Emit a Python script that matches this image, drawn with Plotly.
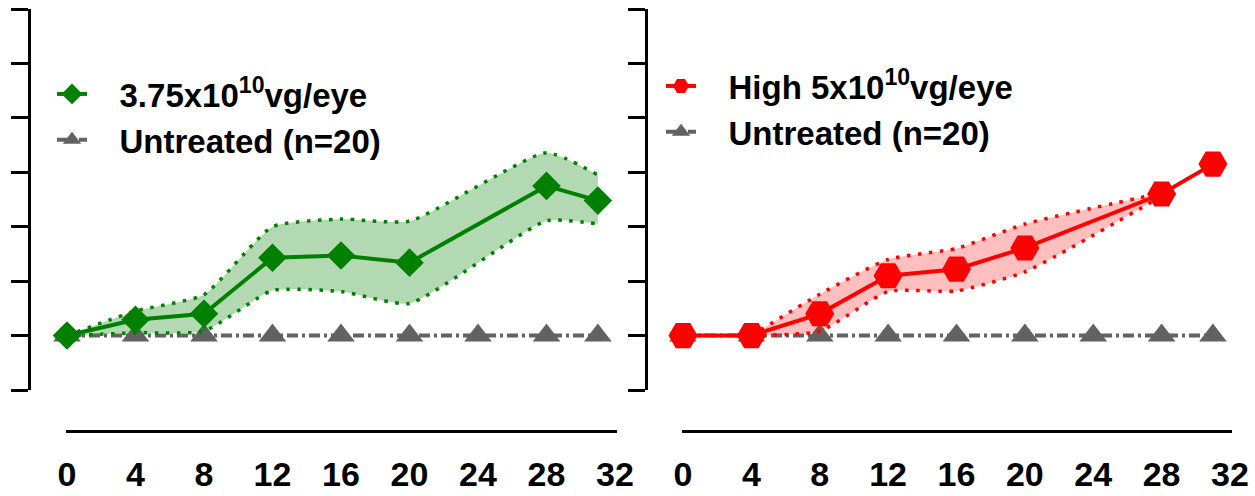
import plotly.graph_objects as go

W, H = 1255, 496

# ---------------- data ----------------
tick_vals = [0, 4, 8, 12, 16, 20, 24, 28, 32]
tick_text = ["0", "4", "8", "12", "16", "20", "24", "28", "32"]
y_ticks = [0, 1, 2, 3, 4, 5, 6, 7]

untreated_weeks = [0, 4, 8, 12, 16, 20, 24, 28, 31]
untreated_vals = [1.0, 1.0, 1.0, 1.0, 1.0, 1.0, 1.0, 1.0, 1.0]

green_weeks = [0, 4, 8, 12, 16, 20, 28, 31]
green_mean = [1.00, 1.29, 1.40, 2.43, 2.47, 2.34, 3.75, 3.48]
green_upper = [1.00, 1.45, 1.75, 3.00, 3.14, 3.10, 4.36, 3.95]
green_lower = [1.00, 1.05, 1.08, 1.83, 1.81, 1.59, 3.11, 3.05]

red_weeks = [0, 4, 8, 12, 16, 20, 28, 31]
red_mean = [1.00, 1.00, 1.40, 2.10, 2.22, 2.61, 3.60, 4.15]
red_band_weeks = [4, 8, 12, 16, 20, 28]
red_upper = [1.00, 1.76, 2.40, 2.60, 3.05, 3.62]
red_lower = [1.00, 1.08, 1.81, 1.82, 2.17, 3.56]

green_name = "\u00a0\u00a0\u00a03.75x10<sup>10</sup>vg/eye"
red_name = "\u00a0\u00a0\u00a0High 5x10<sup>10</sup>vg/eye"
untreated_name = "\u00a0\u00a0\u00a0Untreated (n=20)"

# ---------------- styles ----------------
GREEN = "#008000"
GREEN_FILL = "rgba(0,128,0,0.30)"
RED = "#ff0000"
RED_FILL = "rgba(255,0,0,0.25)"
GRAY = "#626262"
DOT = "3.5px,7.5px"
DASHDOT = "11px,4px,3px,4px"

fig = go.Figure()


def add_panel(xa, ya, legend, weeks, mean, band_x, upper, lower, color, fill, symbol, msize, name):
    # untreated
    fig.add_trace(go.Scatter(
        x=untreated_weeks, y=untreated_vals, xaxis=xa, yaxis=ya, mode="lines+markers",
        name=untreated_name, legend=legend, legendrank=2,
        line=dict(color=GRAY, width=4, dash=DASHDOT),
        marker=dict(symbol="triangle-up", size=24, color=GRAY),
        cliponaxis=False))
    # band
    fig.add_trace(go.Scatter(
        x=band_x, y=lower, xaxis=xa, yaxis=ya, mode="lines", showlegend=False,
        line=dict(color=color, width=3.5, dash=DOT, shape="spline", smoothing=0.5),
        hoverinfo="skip"))
    fig.add_trace(go.Scatter(
        x=band_x, y=upper, xaxis=xa, yaxis=ya, mode="lines", showlegend=False,
        fill="tonexty", fillcolor=fill,
        line=dict(color=color, width=3.5, dash=DOT, shape="spline", smoothing=0.5),
        hoverinfo="skip"))
    # mean
    fig.add_trace(go.Scatter(
        x=weeks, y=mean, xaxis=xa, yaxis=ya, mode="lines+markers",
        name=name, legend=legend, legendrank=1,
        line=dict(color=color, width=4),
        marker=dict(symbol=symbol, size=msize, color=color),
        cliponaxis=False))


add_panel("x", "y", "legend", green_weeks, green_mean, green_weeks, green_upper, green_lower,
          GREEN, GREEN_FILL, "diamond", 22, green_name)
add_panel("x2", "y2", "legend2", red_weeks, red_mean, red_band_weeks, red_upper, red_lower,
          RED, RED_FILL, "hexagon2", 29, red_name)

TICKFONT = dict(family="Liberation Sans Narrow, Liberation Sans, Arial", size=34, color="black", weight="bold")
LEGFONT = dict(family="Liberation Sans, Arial", size=33, color="black", weight="bold")

ydom = [(H - 390) / H, (H - 9) / H]
xpos = (H - 430.7) / H


def xaxis_cfg(x0, x1):
    return dict(domain=[x0 / W, x1 / W], range=[-0.058, 32.117], anchor="free", position=xpos,
                showline=True, linecolor="black", linewidth=3, showgrid=False, zeroline=False,
                tickmode="array", tickvals=tick_vals, ticktext=tick_text,
                ticks="outside", ticklen=12, tickcolor="rgba(0,0,0,0)",
                tickfont=TICKFONT, fixedrange=True, automargin=False)


def yaxis_cfg(px):
    return dict(domain=ydom, range=[0, 7], anchor="free", position=px / W,
                showline=True, linecolor="black", linewidth=3, showgrid=False, zeroline=False,
                tickmode="array", tickvals=y_ticks, ticks="outside", ticklen=17, tickwidth=3,
                tickcolor="black", showticklabels=False, fixedrange=True, automargin=False)


fig.update_layout(
    width=W, height=H, autosize=False,
    margin=dict(l=0, r=0, t=0, b=0, pad=0, autoexpand=False),
    paper_bgcolor="white", plot_bgcolor="white",
    xaxis=xaxis_cfg(66, 617), yaxis=yaxis_cfg(28.5),
    xaxis2=xaxis_cfg(682, 1232), yaxis2=yaxis_cfg(646),
    legend=dict(x=52 / W, y=1 - 66 / H, xanchor="left", yanchor="top", font=LEGFONT,
                bgcolor="rgba(0,0,0,0)", traceorder="normal", tracegroupgap=0),
    legend2=dict(x=661 / W, y=1 - 58 / H, xanchor="left", yanchor="top", font=LEGFONT,
                 bgcolor="rgba(0,0,0,0)", traceorder="normal", tracegroupgap=0),
    showlegend=True,
)

fig.write_html("out.html", config={"responsive": False, "displayModeBar": False})
